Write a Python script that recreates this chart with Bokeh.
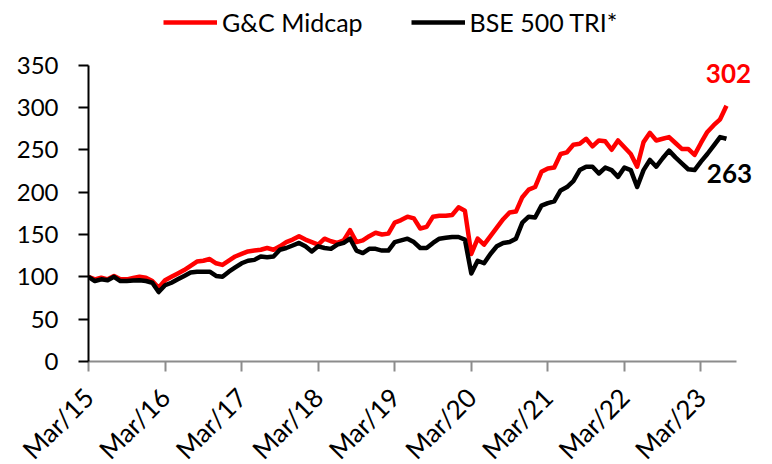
import math
from bokeh.plotting import figure
from bokeh.models import Range1d, FixedTicker, Legend, LegendItem, Label
from bokeh.embed import file_html
from bokeh.resources import INLINE

# ---- data (monthly index values, Mar/15 = month 0 ... Jul/23 = month 100) ----
months = list(range(101))
gc_midcap = [
    100, 97, 99, 97, 101, 97, 97, 98.5, 100, 99, 95, 87,
    96, 100, 104, 108, 113, 118, 119, 121, 116, 114, 119, 124,
    127, 130, 131, 132, 134, 132, 136, 141, 144, 148, 144, 141,
    138, 145, 142, 140, 143, 155, 141, 143, 148, 152, 150, 151,
    164, 167, 171, 169, 157, 159, 171, 172, 172, 173, 182, 178,
    127, 145, 138, 148, 158, 168, 176, 177, 194, 203, 206, 224,
    228, 229, 245, 247, 256, 257, 263, 254, 261, 260, 250, 261,
    253, 245, 230, 259, 270, 261, 263, 265, 258, 251, 251, 244,
    258, 271, 279, 286, 302,
]
bse500_tri = [
    100, 95, 97, 96, 100, 95, 95, 95.5, 96, 95, 93, 82,
    90, 93, 97, 101, 105, 106, 106, 106, 101, 100, 106, 111,
    116, 119, 120, 124, 123, 124, 132, 134, 137, 140, 136, 130,
    136, 134, 133, 138, 140, 145, 131, 128, 133, 133, 131, 131,
    141, 143, 145, 141, 134, 134, 140, 145, 146, 147, 147, 144,
    104, 119, 116, 127, 136, 140, 141, 145, 164, 171, 170, 184,
    187, 189, 202, 206, 213, 226, 230, 230, 222, 229, 226, 218,
    229, 226, 206, 226, 238, 230, 240, 249, 241, 234, 227, 226,
    236, 245, 255, 265, 263,
]
series_names = ["G&C Midcap", "BSE 500 TRI*"]
tick_months = [0, 12, 24, 36, 48, 60, 72, 84, 96]
tick_labels = ["Mar/15", "Mar/16", "Mar/17", "Mar/18", "Mar/19",
               "Mar/20", "Mar/21", "Mar/22", "Mar/23"]
y_ticks = [0, 50, 100, 150, 200, 250, 300, 350]
x_axis_end = 101.6
y_axis_end = 350

FONT = "Lato"

p = figure(title=None, frame_width=676, frame_height=353,
           output_backend="svg", toolbar_location=None,
           x_range=Range1d(0, 105.96), y_range=Range1d(0, 416.8),
           min_border_left=88, min_border_right=0, min_border_top=8,
           min_border_bottom=97)
p.outline_line_color = None
p.xgrid.visible = False
p.ygrid.visible = False

r1 = p.line(months, gc_midcap, line_color="#FF0000", line_width=4.5,
            line_join="round")
r2 = p.line(months, bse500_tri, line_color="#000000", line_width=4.5,
            line_join="round")

# x axis
xa = p.xaxis[0]
xa.bounds = (0, x_axis_end)
xa.ticker = FixedTicker(ticks=tick_months)
xa.major_label_overrides = {m: l for m, l in zip(tick_months, tick_labels)}
xa.major_label_orientation = math.pi / 4
xa.axis_line_color = "#8c8c8c"
xa.axis_line_width = 2
xa.major_tick_line_color = "#8c8c8c"
xa.major_tick_line_width = 2
xa.major_tick_in = 0
xa.major_tick_out = 10
xa.minor_tick_line_color = None
xa.major_label_text_font = FONT
xa.major_label_text_font_size = "26px"
xa.major_label_text_color = "black"
xa.major_label_standoff = 21

# y axis
ya = p.yaxis[0]
ya.bounds = (0, y_axis_end)
ya.ticker = FixedTicker(ticks=y_ticks)
ya.axis_line_color = "black"
ya.axis_line_width = 2
ya.major_tick_line_color = "black"
ya.major_tick_line_width = 2
ya.major_tick_in = 0
ya.major_tick_out = 10
ya.minor_tick_line_color = None
ya.major_label_text_font = FONT
ya.major_label_text_font_size = "24px"
ya.major_label_text_color = "black"
ya.major_label_standoff = 20

# end-value labels
lab1 = Label(x=months[-1], y=gc_midcap[-1], text=str(round(gc_midcap[-1])),
             x_offset=2, y_offset=32, text_align="center", text_baseline="middle",
             text_color="#FF0000", text_font=FONT, text_font_style="bold",
             text_font_size="26px")
lab2 = Label(x=months[-1], y=bse500_tri[-1], text=str(round(bse500_tri[-1])),
             x_offset=3, y_offset=-35, text_align="center", text_baseline="middle",
             text_color="#000000", text_font=FONT, text_font_style="bold",
             text_font_size="26px")
p.add_layout(lab1)
p.add_layout(lab2)

legend = Legend(items=[LegendItem(label=series_names[0], renderers=[r1]),
                       LegendItem(label=series_names[1], renderers=[r2])],
                orientation="horizontal", location=(75, 324),
                label_text_font=FONT, label_text_font_size="25px",
                label_text_color="black", glyph_width=54, glyph_height=26,
                label_standoff=5, spacing=48, padding=0, margin=0,
                border_line_color=None, background_fill_alpha=0)
p.add_layout(legend, "center")

open("out.html", "w").write(file_html(p, INLINE))
